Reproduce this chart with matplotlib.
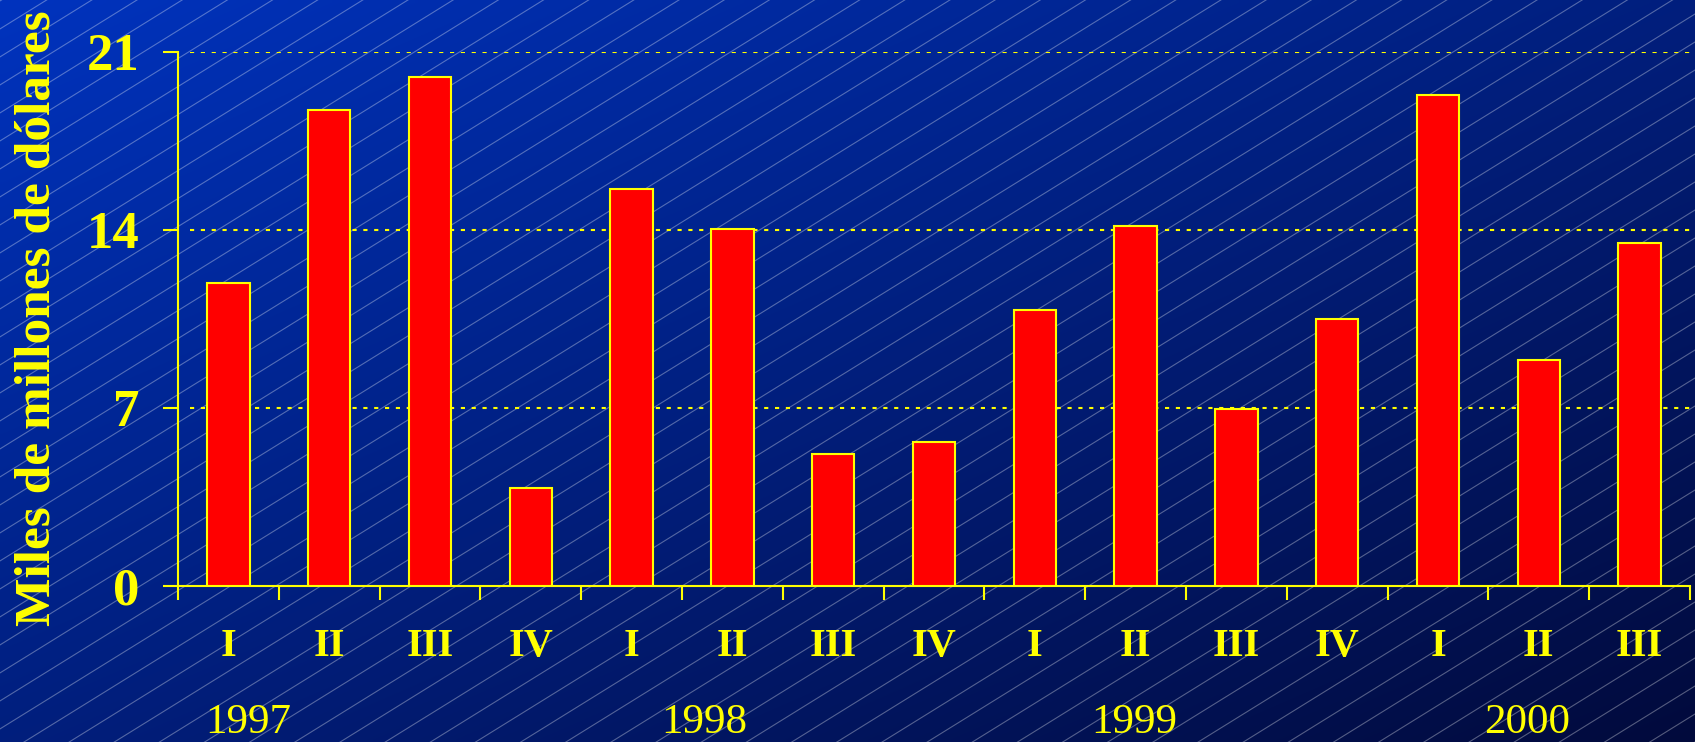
import matplotlib
matplotlib.use("Agg")
import matplotlib.pyplot as plt
import numpy as np

# datos
quarters = ["I", "II", "III", "IV", "I", "II", "III", "IV",
            "I", "II", "III", "IV", "I", "II", "III"]
values = [11.9, 18.7, 20.0, 3.85, 15.6, 14.05, 5.2, 5.65,
          10.85, 14.15, 6.95, 10.5, 19.3, 8.9, 13.5]
years = ["1997", "1998", "1999", "2000"]
yticks = [0, 7, 14, 21]

yellow = "#ffff00"
font = ["Liberation Serif", "DejaVu Serif"]
W, H = 1695, 742

fig = plt.figure(figsize=(W / 100, H / 100), dpi=100)

# fondo: degradado azul con líneas diagonales
bg = fig.add_axes([0, 0, 1, 1], zorder=-1)
xx, yy = np.meshgrid(np.linspace(0, 1, 340), np.linspace(0, 1, 150))
t = (xx + yy) / 2
c0 = np.array([0, 51, 190]) / 255
c1 = np.array([2, 10, 60]) / 255
img = c0[None, None, :] * (1 - t[..., None]) + c1[None, None, :] * t[..., None]
bg.imshow(img, extent=[0, W, H, 0], aspect="auto", interpolation="bilinear")
m = 0.62
for c in np.arange(-m * W, H + 30, 28):
    xs = np.array([0, W])
    bg.plot(xs, H - (m * xs + c), color="white", lw=0.8, alpha=0.33)
bg.set_xlim(0, W)
bg.set_ylim(H, 0)
bg.axis("off")

# gráfico principal
ax = fig.add_axes([178 / W, 1 - 586 / H, (1690 - 178) / W, 534 / H])
ax.set_facecolor("none")
x = np.arange(len(values))
ax.bar(x, values, width=0.42, color="#ff0000", edgecolor=yellow, linewidth=1.5, zorder=3)

ax.set_xlim(-0.5, len(values) - 0.5)
ax.set_ylim(0, 21)
ax.set_yticks(yticks)
ax.set_yticklabels([str(v) for v in yticks], fontsize=38, fontweight="bold",
                   color=yellow, family=font)
ax.set_xticks(np.arange(-0.5, len(values), 1.0))
ax.set_xticklabels([])
ax.tick_params(axis="y", direction="out", length=11, width=1.5, color=yellow, pad=17)
ax.tick_params(axis="x", direction="out", length=10, width=1.5, color=yellow)

for s in ["top", "right"]:
    ax.spines[s].set_visible(False)
for s in ["left", "bottom"]:
    ax.spines[s].set_color(yellow)
    ax.spines[s].set_linewidth(1.5)

for v in yticks[1:]:
    ax.axhline(v, xmin=0.008, color=yellow, lw=1.5, dashes=(2, 3.2), zorder=1)

trans = ax.get_xaxis_transform()
for i, q in enumerate(quarters):
    ax.text(i, -0.132, q, transform=trans, ha="center", va="baseline",
            fontsize=29, fontweight="bold", color=yellow, family=font)

year_pos = [0.2, 4.72, 8.99, 12.88]
for p, yr in zip(year_pos, years):
    ax.text(p, -0.276, yr, transform=trans, ha="center", va="baseline",
            fontsize=31, color=yellow, family=font)

fig.text(38 / W, 1 - 318 / H, "Miles de millones de dólares", rotation=90,
         ha="center", va="center", fontsize=37, fontweight="bold",
         color=yellow, family=font)

fig.savefig("out.png", dpi=100)
